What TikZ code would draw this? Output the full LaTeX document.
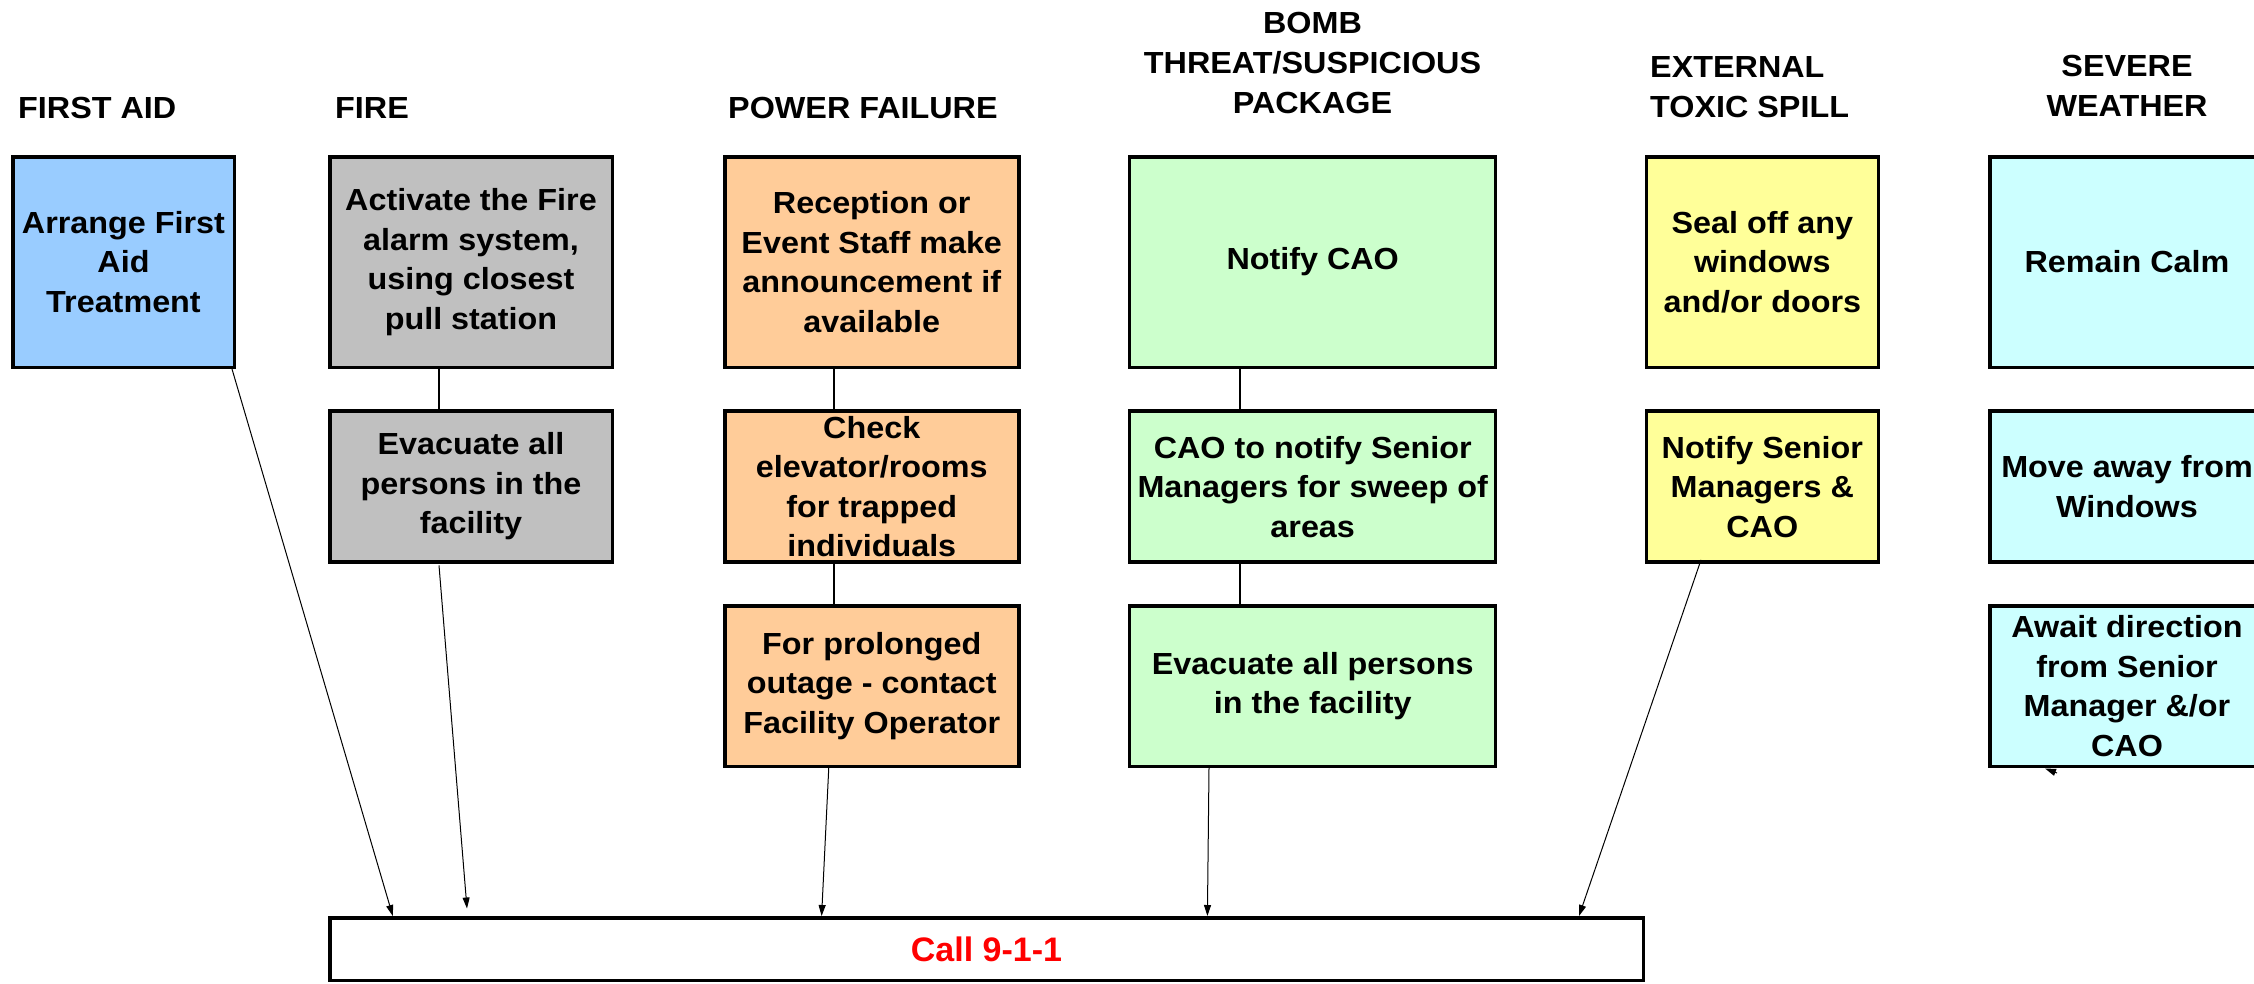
\documentclass[tikz,border=0pt]{standalone}
\usepackage{fontspec}
\setmainfont{Liberation Sans}[FakeStretch=1.06]
\newfontfamily\callfont{Liberation Sans}
\usetikzlibrary{arrows.meta}
\definecolor{cblue}{HTML}{99CCFF}
\definecolor{cgray}{HTML}{C0C0C0}
\definecolor{corange}{HTML}{FFCC99}
\definecolor{cgreen}{HTML}{CCFFCC}
\definecolor{cyellow}{HTML}{FFFF99}
\definecolor{ccyan}{HTML}{CCFFFF}
\begin{document}
\begin{tikzpicture}[x=1pt,y=-1pt,
  box/.style={draw, line width=3.5pt, inner sep=0pt, align=center,
    font=\bfseries\fontsize{30.5}{39.5}\selectfont},
  ttl/.style={inner sep=0pt, font=\bfseries\fontsize{30.5}{40}\selectfont},
  link/.style={line width=1.5pt},
  arr/.style={line width=1pt, -{Triangle[length=11pt,width=7pt]}},
  r1/.style={minimum height=210.5pt},
  r2/.style={minimum height=151pt},
  r3/.style={minimum height=160.5pt},
  cfa/.style={minimum width=221.5pt, fill=cblue},
  cfi/.style={minimum width=282.5pt, fill=cgray},
  cpo/.style={minimum width=294pt, fill=corange},
  cbo/.style={minimum width=366pt, fill=cgreen},
  ctx/.style={minimum width=232pt, fill=cyellow},
  cwe/.style={minimum width=274.5pt, fill=ccyan},
]
\useasboundingbox (0,0) rectangle (2254,983);
\clip (0,0) rectangle (2254,983);

% titles
\node[ttl, anchor=base west] (tfa) at (18,118) {FIRST AID};
\node[ttl, anchor=base west] (tfi) at (335,118) {FIRE};
\node[ttl, anchor=base west] (tpo) at (728,118) {POWER FAILURE};
\node[ttl, align=center, anchor=north] (tbo) at (1312.5,11.5) {BOMB\\THREAT/SUSPICIOUS\\PACKAGE};
\node[ttl, align=left, anchor=north west] (ttx) at (1650,56) {EXTERNAL\\TOXIC SPILL};
\node[ttl, align=center, anchor=north] (twe) at (2127,55) {SEVERE\\WEATHER};

% first aid
\node[box, cfa, r1] (fa1) at (123.5,262) {Arrange First\\Aid\\Treatment};
% fire
\node[box, cfi, r1] (fi1) at (471,262) {Activate the Fire\\alarm system,\\using closest\\pull station};
\node[box, cfi, r2] (fi2) at (471,486.6) {Evacuate all\\persons in the\\facility};
% power
\node[box, cpo, r1] (po1) at (871.75,262) {Reception or\\Event Staff make\\announcement if\\available};
\node[box, cpo, r2] (po2) at (871.75,486.6) {Check\\elevator/rooms\\for trapped\\individuals};
\node[box, cpo, r3] (po3) at (871.75,686) {For prolonged\\outage - contact\\Facility Operator};
% bomb
\node[box, cbo, r1] (bo1) at (1312.7,262) {Notify CAO};
\node[box, cbo, r2] (bo2) at (1312.7,486.6) {CAO to notify Senior\\Managers for sweep of\\areas};
\node[box, cbo, r3] (bo3) at (1312.7,686) {Evacuate all persons\\in the facility};
% toxic
\node[box, ctx, r1] (tx1) at (1762.3,262) {Seal off any\\windows\\and/or doors};
\node[box, ctx, r2] (tx2) at (1762.3,486.6) {Notify Senior\\Managers \&\\CAO};
% weather
\node[box, cwe, r1] (we1) at (2127,262) {Remain Calm};
\node[box, cwe, r2] (we2) at (2127,486.6) {Move away from\\Windows};
\node[box, cwe, r3] (we3) at (2127,686) {Await direction\\from Senior\\Manager \&/or\\CAO};

% call
\node[box, minimum width=1313.5pt, minimum height=62.5pt, text=red,
  font=\callfont\bfseries\fontsize{34}{40}\selectfont] (call) at (986.5,949) {Call 9-1-1};

% plain connectors
\draw[link] ([xshift=-32pt]fi1.south) -- ([xshift=-32pt]fi2.north);
\draw[link] ([xshift=-37.75pt]po1.south) -- ([xshift=-37.75pt]po2.north);
\draw[link] ([xshift=-37.75pt]po2.south) -- ([xshift=-37.75pt]po3.north);
\draw[link] ([xshift=-72.7pt]bo1.south) -- ([xshift=-72.7pt]bo2.north);
\draw[link] ([xshift=-72.7pt]bo2.south) -- ([xshift=-72.7pt]bo3.north);

% arrows to call
\draw[arr] ([xshift=108.5pt]fa1.south) -- ([xshift=-593.7pt]call.north);
\draw[arr] ([xshift=-32pt,yshift=-1.5pt]fi2.south) -- ([xshift=-519.5pt,yshift=7.5pt]call.north);
\draw[arr] ([xshift=-43pt]po3.south) -- ([xshift=-164.9pt]call.north);
\draw[arr] ([xshift=-103.7pt]bo3.south) -- ([xshift=220.9pt]call.north);
\draw[arr] ([xshift=-61.3pt,yshift=4pt]tx2.south) -- ([xshift=592.5pt]call.north);

% stray arrowhead under weather box
\coordinate (wt) at (2057,773);
\coordinate (wh) at (2045,768.5);
\draw[arr] (wt) -- (wh);
\end{tikzpicture}
\end{document}
